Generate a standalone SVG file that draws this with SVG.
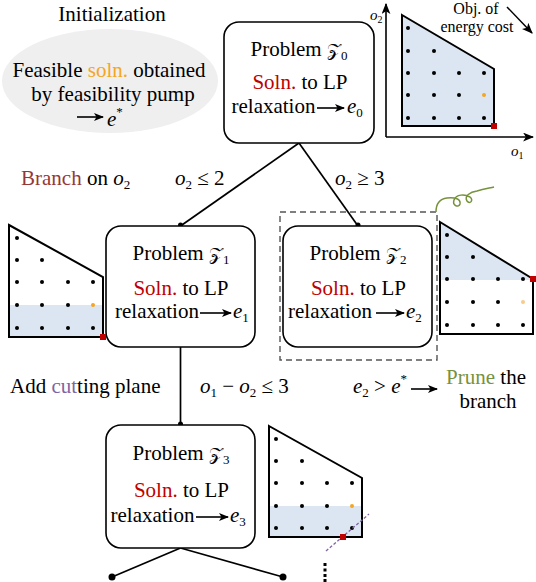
<svg xmlns="http://www.w3.org/2000/svg" width="536" height="582" viewBox="0 0 536 582">
<defs>
<style>
.t{font-family:"Liberation Serif","Times New Roman",serif;font-size:21px;fill:#000}
.it{font-style:italic}
.cal{font-family:"DejaVu Serif","DejaVu Sans","Noto Sans",serif;font-style:normal;font-size:18px}
.sub{font-size:13px}
.s16{font-size:16px}
.s15{font-size:15px}
.s10{font-size:10px;font-style:normal}
.mid{text-anchor:middle}
.box{fill:#fff;stroke:#000;stroke-width:1.6}
.ln{stroke:#000;stroke-width:1.7;fill:none}
.poly{fill:none;stroke:#000;stroke-width:2}
.shade{fill:#dce6f2;stroke:none}
.dot{fill:#000}
.red{fill:#c00000}
.arr{stroke:#000;stroke-width:1.6;fill:none;marker-end:url(#ah)}
</style>
<marker id="ah" viewBox="0 0 10 8" refX="9" refY="4" markerWidth="10" markerHeight="8" markerUnits="userSpaceOnUse" orient="auto">
<path d="M0,0 L10,4 L0,8 L2.5,4 z" fill="#000"/>
</marker>
<marker id="ah2" viewBox="0 0 10 8" refX="9" refY="4" markerWidth="11" markerHeight="9" markerUnits="userSpaceOnUse" orient="auto">
<path d="M0,0 L10,4 L0,8 L2.5,4 z" fill="#000"/>
</marker>
</defs>

<!-- Initialization -->
<g id="init">
<text class="t mid" x="112" y="21">Initialization</text>
<ellipse cx="110" cy="81" rx="108" ry="52" fill="#efefef"/>
<text class="t mid" x="109" y="77">Feasible <tspan fill="#f5a623">soln.</tspan> obtained</text>
<text class="t mid" x="113" y="101">by feasibility pump</text>
<line class="arr" x1="77" y1="117" x2="103" y2="117"/>
<text class="t it" x="107" y="126">e<tspan class="sub" dy="-10" font-style="normal">*</tspan></text>
</g>

<!-- Top plot -->
<g id="plot0">
<line x1="386" y1="137" x2="386" y2="4" stroke="#000" stroke-width="1.6" marker-end="url(#ah2)"/>
<line x1="386" y1="137" x2="533" y2="137" stroke="#000" stroke-width="1.6" marker-end="url(#ah2)"/>
<text class="t it s15" x="370" y="20">o<tspan class="s10" dy="3">2</tspan></text>
<text class="t it s15" x="511" y="156">o<tspan class="s10" dy="3">1</tspan></text>
<polygon class="shade" points="402,15 494,69 494,126 402,126"/>
<polygon class="poly" points="402,15 494,69 494,126 402,126"/>
<g class="dot">
<circle cx="408" cy="28" r="2"/>
<circle cx="408" cy="51" r="2"/><circle cx="434" cy="51" r="2"/>
<circle cx="408" cy="73" r="2"/><circle cx="434" cy="73" r="2"/><circle cx="459" cy="73" r="2"/><circle cx="484" cy="73" r="2"/>
<circle cx="408" cy="95" r="2"/><circle cx="434" cy="95" r="2"/><circle cx="459" cy="95" r="2"/>
<circle cx="408" cy="118" r="2"/><circle cx="434" cy="118" r="2"/><circle cx="459" cy="118" r="2"/><circle cx="484" cy="118" r="2"/>
</g>
<circle cx="484" cy="95" r="2" fill="#f5a623"/>
<rect class="red" x="491" y="123" width="6" height="6"/>
<text class="t mid s16" x="476" y="14">Obj. of</text>
<text class="t mid s16" x="477" y="32">energy cost</text>
<line x1="507" y1="7" x2="532" y2="33" stroke="#000" stroke-width="1.5" marker-end="url(#ah2)"/>
</g>

<!-- Connectors -->
<g id="connectors">
<line class="ln" x1="299" y1="143" x2="180.5" y2="226"/>
<line class="ln" x1="299" y1="143" x2="358" y2="226"/>
<circle cx="180.5" cy="225" r="2.5"/>
<circle cx="358" cy="225" r="2.5"/>
<line class="ln" x1="180.5" y1="347" x2="180.5" y2="425"/>
<circle cx="180.5" cy="424" r="2.5"/>
<line class="ln" x1="180.5" y1="548" x2="112" y2="577"/>
<line class="ln" x1="180.5" y1="548" x2="283" y2="577"/>
<circle cx="112" cy="577" r="3.5"/>
<circle cx="283" cy="577" r="3.5"/>
<g fill="#000">
<rect x="323.5" y="563" width="3" height="3"/>
<rect x="323.5" y="568.5" width="3" height="3"/>
<rect x="323.5" y="574" width="3" height="3"/>
<rect x="323.5" y="579" width="3" height="3"/>
</g>
</g>

<!-- Branch labels -->
<g id="labels">
<text class="t" x="21" y="185"><tspan fill="#953735">Branch</tspan> on <tspan class="it">o</tspan><tspan class="sub" dy="4">2</tspan></text>
<text class="t" x="175" y="185"><tspan class="it">o</tspan><tspan class="sub" dy="4">2</tspan><tspan dy="-4"> ≤ 2</tspan></text>
<text class="t" x="335" y="185"><tspan class="it">o</tspan><tspan class="sub" dy="4">2</tspan><tspan dy="-4"> ≥ 3</tspan></text>
<text class="t" x="10" y="393">Add <tspan fill="#8064a2">cut</tspan>ting plane</text>
<text class="t" x="200" y="393"><tspan class="it">o</tspan><tspan class="sub" dy="4">1</tspan><tspan dy="-4"> − </tspan><tspan class="it">o</tspan><tspan class="sub" dy="4">2</tspan><tspan dy="-4"> ≤ 3</tspan></text>
<text class="t" x="353" y="393"><tspan class="it">e</tspan><tspan class="sub" dy="4">2</tspan><tspan dy="-4"> &gt; </tspan><tspan class="it">e</tspan><tspan class="sub" dy="-10">*</tspan></text>
<line class="arr" x1="411" y1="389" x2="437" y2="389"/>
<text class="t mid" x="486" y="384"><tspan fill="#76923c">Prune</tspan> the</text>
<text class="t mid" x="488" y="408">branch</text>
</g>

<!-- Z0 -->
<g id="z0">
<rect class="box" x="224" y="22" width="150" height="121" rx="15"/>
<text class="t mid" x="299" y="56">Problem <tspan class="cal">𝒵</tspan><tspan class="sub" dy="4">0</tspan></text>
<text class="t mid" x="300" y="89"><tspan fill="#c00000">Soln.</tspan> to LP</text>
<text class="t" x="231.5" y="113">relaxation</text>
<line class="arr" x1="317" y1="108" x2="344" y2="108"/>
<text class="t it" x="347" y="113">e<tspan class="sub" dy="4" font-style="normal">0</tspan></text>
</g>

<!-- Z1 -->
<g id="z1">
<rect class="box" x="106" y="226" width="149" height="121" rx="15"/>
<text class="t mid" x="181" y="260">Problem <tspan class="cal">𝒵</tspan><tspan class="sub" dy="4">1</tspan></text>
<text class="t mid" x="181" y="295"><tspan fill="#c00000">Soln.</tspan> to LP</text>
<text class="t" x="115" y="318">relaxation</text>
<line class="arr" x1="200" y1="313" x2="231" y2="313"/>
<text class="t it" x="233" y="318">e<tspan class="sub" dy="4" font-style="normal">1</tspan></text>
</g>

<!-- Z1 plot -->
<g id="plot1">
<rect class="shade" x="9" y="305" width="94" height="32"/>
<polygon class="poly" points="9,225 103,277 103,337 9,337"/>
<g class="dot">
<circle cx="17" cy="238" r="2"/>
<circle cx="17" cy="260" r="2"/><circle cx="42" cy="260" r="2"/>
<circle cx="17" cy="282" r="2"/><circle cx="42" cy="282" r="2"/><circle cx="68" cy="282" r="2"/><circle cx="93" cy="282" r="2"/>
<circle cx="17" cy="305" r="2"/><circle cx="42" cy="305" r="2"/><circle cx="68" cy="305" r="2"/>
<circle cx="17" cy="328" r="2"/><circle cx="42" cy="328" r="2"/><circle cx="68" cy="328" r="2"/><circle cx="93" cy="328" r="2"/>
</g>
<circle cx="93" cy="305" r="2" fill="#f5a623"/>
<rect class="red" x="100" y="334" width="6" height="6"/>
</g>

<!-- Z2 -->
<g id="z2">
<rect x="280" y="212" width="157" height="148" fill="none" stroke="#555" stroke-width="1.4" stroke-dasharray="6,4"/>
<rect class="box" x="283" y="226" width="149" height="121" rx="15"/>
<text class="t mid" x="358" y="260">Problem <tspan class="cal">𝒵</tspan><tspan class="sub" dy="4">2</tspan></text>
<text class="t mid" x="358.5" y="295"><tspan fill="#c00000">Soln.</tspan> to LP</text>
<text class="t" x="288" y="318">relaxation</text>
<line class="arr" x1="376" y1="313" x2="404" y2="313"/>
<text class="t it" x="406" y="318">e<tspan class="sub" dy="4" font-style="normal">2</tspan></text>
<path d="M436,212 C436,204 439,199 447,198 C455,197 461,199 460,204 C459,208 452,206 454,200 C456,194 465,194 470,197 C474,200 470,205 467,201 C464,196 470,192 477,191 C484,189 490,188 494,187" fill="none" stroke="#76923c" stroke-width="1.5"/>
</g>

<!-- Z2 plot -->
<g id="plot2">
<polygon class="shade" points="440,222 533,279 533,280 440,280"/>
<polygon class="poly" points="440,222 533,279 533,334 440,334"/>
<g class="dot">
<circle cx="447" cy="235" r="2"/>
<circle cx="447" cy="257" r="2"/><circle cx="473" cy="257" r="2"/>
<circle cx="447" cy="279" r="2"/><circle cx="473" cy="279" r="2"/><circle cx="498" cy="279" r="2"/><circle cx="523" cy="279" r="2"/>
<circle cx="447" cy="302" r="2"/><circle cx="473" cy="302" r="2"/><circle cx="498" cy="302" r="2"/>
<circle cx="447" cy="325" r="2"/><circle cx="473" cy="325" r="2"/><circle cx="498" cy="325" r="2"/><circle cx="523" cy="325" r="2"/>
</g>
<circle cx="523" cy="302" r="2" fill="#f8cb8a"/>
<rect class="red" x="530" y="276" width="6" height="6"/>
</g>

<!-- Z3 -->
<g id="z3">
<rect class="box" x="106" y="425" width="149" height="123" rx="15"/>
<text class="t mid" x="181" y="460">Problem <tspan class="cal">𝒵</tspan><tspan class="sub" dy="4">3</tspan></text>
<text class="t mid" x="181.5" y="497"><tspan fill="#c00000">Soln.</tspan> to LP</text>
<text class="t" x="110.5" y="522">relaxation</text>
<line class="arr" x1="196" y1="517" x2="228" y2="517"/>
<text class="t it" x="230" y="522">e<tspan class="sub" dy="4" font-style="normal">3</tspan></text>
</g>

<!-- Z3 plot -->
<g id="plot3">
<rect class="shade" x="269" y="506" width="93" height="31"/>
<polygon class="poly" points="269,426 362,478 362,537 269,537"/>
<g class="dot">
<circle cx="276" cy="439" r="2"/>
<circle cx="276" cy="461" r="2"/><circle cx="302" cy="461" r="2"/>
<circle cx="276" cy="483" r="2"/><circle cx="302" cy="483" r="2"/><circle cx="327" cy="483" r="2"/><circle cx="352" cy="483" r="2"/>
<circle cx="276" cy="506" r="2"/><circle cx="302" cy="506" r="2"/><circle cx="327" cy="506" r="2"/>
<circle cx="276" cy="528" r="2"/><circle cx="302" cy="528" r="2"/><circle cx="327" cy="528" r="2"/><circle cx="352" cy="528" r="2"/>
</g>
<circle cx="352" cy="506" r="2" fill="#f5a623"/>
<line x1="326" y1="551" x2="369" y2="514" stroke="#8064a2" stroke-width="1.3" stroke-dasharray="3,2"/>
<rect class="red" x="340" y="534" width="6" height="6"/>
</g>
</svg>
